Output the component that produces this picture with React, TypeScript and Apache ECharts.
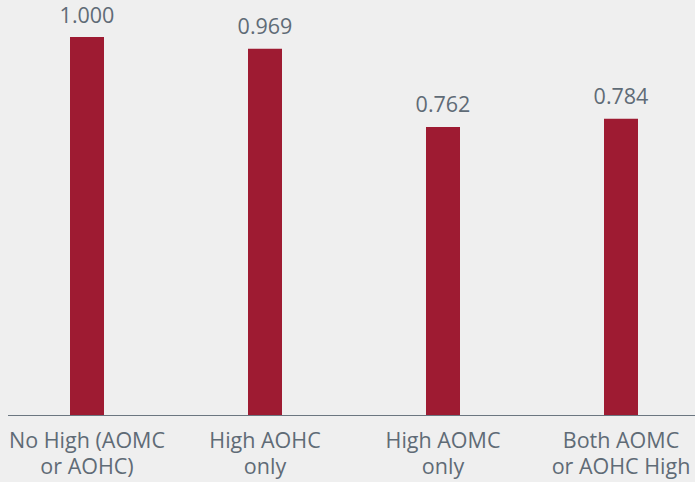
import React, { useEffect, useRef } from "react";
import * as echarts from "echarts";

const categories = [
  "No High (AOMC\nor AOHC)",
  "High AOHC\nonly",
  "High AOMC\nonly",
  "Both AOMC\nor AOHC High",
];
const values = [1.0, 0.969, 0.762, 0.784];

const TEXT = "#5f6b76";
const BAR = "#9e1b32";
const BG = "#efefef";

// The plot is a little wider than the visible frame, so the outer
// category bands run past both edges.
const CHART_W = 712;
const OFFSET_X = -2;

export default function App() {
  const ref = useRef<HTMLDivElement>(null);

  useEffect(() => {
    if (!ref.current) return;
    const chart = echarts.init(ref.current, undefined, { renderer: "svg" });
    chart.setOption({
      animation: false,
      backgroundColor: BG,
      textStyle: { fontFamily: "'Open Sans', sans-serif" },
      grid: { left: 0, right: 0, top: 37, bottom: 67, containLabel: false },
      xAxis: {
        type: "category",
        data: categories,
        axisLine: { show: false },
        axisTick: { show: false },
        axisLabel: {
          interval: 0,
          color: TEXT,
          fontSize: 21.5,
          lineHeight: 26,
          margin: 11,
          fontFamily: "'Open Sans', sans-serif",
        },
      },
      yAxis: {
        type: "value",
        min: 0,
        max: 1,
        show: false,
        splitLine: { show: false },
      },
      series: [
        {
          type: "bar",
          data: values,
          barWidth: 34,
          itemStyle: { color: BAR },
          label: {
            show: true,
            position: "top",
            distance: 12,
            color: TEXT,
            fontSize: 21.5,
            fontFamily: "'Open Sans', sans-serif",
            formatter: (p: any) => Number(p.value).toFixed(3),
          },
        },
      ],
      graphic: [
        {
          type: "line",
          shape: { x1: 8 - OFFSET_X, y1: 415.5, x2: CHART_W, y2: 415.5 },
          style: { stroke: "#6b7680", lineWidth: 1 },
        },
      ],
    });
    return () => chart.dispose();
  }, []);

  return (
    <div
      style={{
        position: "absolute",
        left: 0,
        top: 0,
        width: 695,
        height: 482,
        overflow: "hidden",
        background: BG,
      }}
    >
      <div
        ref={ref}
        style={{ position: "absolute", left: OFFSET_X, top: 0, width: CHART_W, height: 482 }}
      />
    </div>
  );
}
